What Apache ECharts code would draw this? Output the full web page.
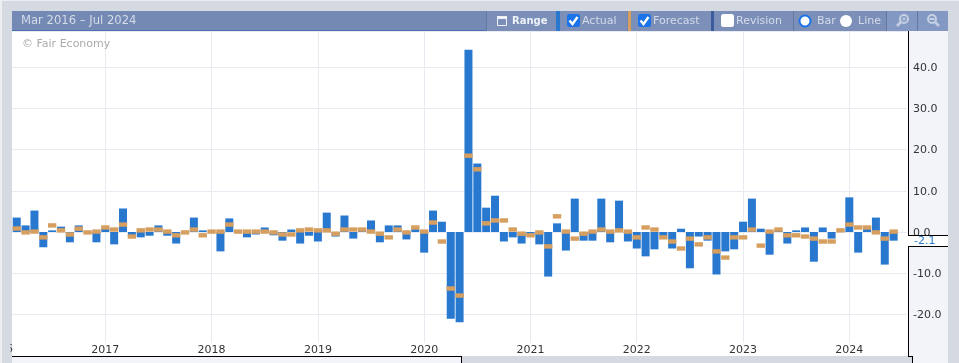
<!DOCTYPE html>
<html>
<head>
<meta charset="utf-8">
<style>html,body{margin:0;padding:0;background:#d5d9e2}#c{width:959px;height:363px}</style>
<script src="https://cdn.jsdelivr.net/npm/echarts@6/dist/echarts.min.js"></script>
</head>
<body>
<div id="c"></div>
<script>
const startYear = 2016, startMonth = 3;
const actualValues = [3.5,1.6,5.2,-3.7,0.4,1.3,-2.5,1.6,-0.1,-2.5,1.0,-3.0,5.7,-1.0,-1.3,-0.9,1.6,-0.9,-2.8,0.0,3.5,0.4,0.0,-4.7,3.3,0.0,
 -1.3,-0.6,1.1,-0.8,-2.1,0.6,-2.8,-0.9,-2.3,4.7,-1.1,4.0,-1.6,0.3,2.8,-2.5,1.6,1.6,-1.8,0.7,-5.0,5.2,2.5,-21.0,-21.9,44.2,16.6,5.9,8.8,
 -2.3,-1.3,-2.8,-0.9,-3.0,-10.8,2.1,-4.5,8.1,-2.1,-2.1,8.1,-2.5,7.6,-2.3,-4.0,-5.9,-4.2,-1.0,-4.0,0.8,-8.8,-1.1,-2.1,-10.3,-4.7,-4.2,2.5,8.1,0.8,-5.5,0.3,-2.8,0.4,1.1,-7.2,1.1,-1.6,0.1,8.4,-5.0,0.8,3.5,-7.9,-2.1,null];
const forecastValues = [0.85,-0.1,0.1,-1.3,1.6,0.4,-0.6,0.8,-0.1,0.1,1.1,0.6,1.8,-1.1,0.4,0.6,0.6,0.1,-0.8,-0.1,0.6,-0.8,0.1,0.1,1.8,0.1,
 0.1,0.1,0.1,-0.1,-0.6,-0.6,0.4,0.6,0.4,0.4,-0.4,0.6,0.6,0.6,0.1,-0.4,-1.3,0.6,-0.1,1.1,0.1,2.3,-2.3,-13.7,-15.4,18.5,15.2,2.1,2.8,
 2.8,0.6,-0.4,-0.8,-0.1,-3.5,3.8,0.1,-1.6,-0.4,0.1,0.6,0.1,0.4,0.1,-1.3,1.1,0.6,-1.3,-2.3,-4.0,-1.6,-3.0,-1.3,-4.7,-6.2,-1.3,-1.3,0.6,-3.3,0.1,0.6,-0.8,-0.8,-1.1,-1.6,-2.3,-2.3,0.4,1.8,1.1,1.1,-0.1,-1.6,0.1,null];
const months = actualValues.map((_, i) => {
  const t = startMonth - 1 + i;
  return (startYear + Math.floor(t / 12)) + '-' + String(t % 12 + 1).padStart(2, '0');
});
const latestActual = -2.1;
const rangeTitle = 'Mar 2016 \u2013 Jul 2024';
const clippedYear = '2016';

const FONT = '"DejaVu Sans", sans-serif';
const isJan = (i) => months[i].endsWith('-01');

const chart = echarts.init(document.getElementById('c'), null, {renderer: 'canvas'});

function rect(x, y, w, h, fill, z, extra) {
  return Object.assign({type: 'rect', silent: true, z: z || 1, shape: {x, y, width: w, height: h}, style: {fill}}, extra || {});
}
function txt(x, y, s, fill, o) {
  o = o || {};
  return {type: 'text', silent: true, z: o.z || 20, x, y, style: {text: s, fill, font: (o.weight || 'normal') + ' ' + (o.size || 11) + 'px ' + FONT, textVerticalAlign: 'middle', textAlign: o.align || 'left'}};
}
function line(x1, y1, x2, y2, stroke, w, z) {
  return {type: 'line', silent: true, z: z || 15, shape: {x1, y1, x2, y2}, style: {stroke, lineWidth: w || 1}};
}
function checkbox(x, y, on) {
  const out = [{type: 'rect', silent: true, z: 21, shape: {x, y, width: 13, height: 13, r: 2.5}, style: {fill: on ? '#1a73e8' : '#ffffff'}}];
  if (on) out.push({type: 'polyline', silent: true, z: 22, shape: {points: [[x + 2.5, y + 6.5], [x + 5.5, y + 10], [x + 10.5, y + 3]]}, style: {stroke: '#fff', lineWidth: 2.4, fill: 'none'}});
  return out;
}
function radio(cx, cy, on) {
  return [{type: 'circle', silent: true, z: 21, shape: {cx, cy, r: on ? 5.5 : 6}, style: {fill: '#fff', stroke: on ? '#1a73e8' : '#fff', lineWidth: on ? 2 : 0}}];
}
function magnifier(cx, cy, plus) {
  const c = '#c6d0e4';
  if (plus) return [
    {type: 'circle', silent: true, z: 21, shape: {cx: cx + 1, cy: cy - 1, r: 4}, style: {fill: 'none', stroke: c, lineWidth: 2}},
    line(cx - 2, cy + 2, cx - 6, cy + 6, c, 2.5, 21),
    line(cx - 1, cy - 1, cx + 3, cy - 1, c, 1, 21),
    line(cx + 1, cy - 3, cx + 1, cy + 1, c, 1, 21)
  ];
  return [
    {type: 'circle', silent: true, z: 21, shape: {cx: cx - 1, cy: cy - 1, r: 4}, style: {fill: 'none', stroke: c, lineWidth: 2}},
    line(cx + 2, cy + 2, cx + 6, cy + 6, c, 2.5, 21),
    line(cx - 3.5, cy - 1, cx + 1.5, cy - 1, c, 2, 21)
  ];
}

const toolbar = [
  rect(12, 11, 936, 20, '#7489b4', 10),
  rect(12, 30, 936, 1, '#4c6fb0', 11),
  rect(487, 11, 69, 20, '#7b8fb9', 11),
  rect(556, 11, 4, 20, '#2878d0', 12),
  rect(560, 11, 67, 20, '#7b8fb9', 11),
  rect(628, 11, 3, 20, '#d69f60', 12),
  rect(631, 11, 80, 20, '#7b8fb9', 11),
  rect(711, 11, 3, 20, '#3a5c9c', 12),
  rect(714, 11, 79, 20, '#7b8fb9', 11),
  rect(794, 11, 92, 20, '#7b8fb9', 11),
  rect(887, 11, 30, 20, '#8398c2', 11),
  rect(918, 11, 30, 20, '#8398c2', 11),
  rect(486, 11, 1, 20, '#62789f', 12),
  rect(793, 11, 1, 20, '#62789f', 12),
  rect(886, 11, 1, 20, '#62789f', 12),
  rect(917, 11, 1, 20, '#62789f', 12),
  txt(21, 21, rangeTitle, '#d5dbe8', {size: 11.6}),
  txt(512, 21, 'Range', '#eef1f7', {weight: 'bold', size: 10}),
  txt(582, 21, 'Actual', '#d5dbe8'),
  txt(653, 21, 'Forecast', '#d5dbe8'),
  txt(736, 21, 'Revision', '#d5dbe8'),
  txt(817, 21, 'Bar', '#d5dbe8'),
  txt(858, 21, 'Line', '#d5dbe8'),
  {type: 'rect', silent: true, z: 21, shape: {x: 497.5, y: 18.5, width: 9, height: 7}, style: {fill: 'none', stroke: '#eef1f7', lineWidth: 1}},
  rect(497, 16, 10, 3, '#eef1f7', 21),
  ...checkbox(567, 14, true),
  ...checkbox(638, 14, true),
  ...checkbox(721, 14, false),
  ...radio(805, 21, true),
  ...radio(846, 21, false),
  ...magnifier(903, 20, true),
  ...magnifier(933, 20, false),
];

const frame = [
  rect(12, 31, 896, 325, '#ffffff', -5),
  rect(908, 31, 40, 332, '#f3f4f9', -5),
  rect(12, 356, 449, 7, '#f3f4f9', 12),
  rect(461, 356, 451, 7, '#d5d9e2', 12),
  rect(912, 356, 36, 7, '#f3f4f9', 12),
  line(12, 356.5, 461, 356.5, '#000', 1, 13),
  line(461.5, 356, 461.5, 363, '#000', 1, 13),
  line(908, 356.5, 912, 356.5, '#000', 1, 13),
  line(912.5, 356, 912.5, 363, '#000', 1, 13),
  rect(0, 0, 959, 1, '#eceef2', 25),
  rect(0, 0, 2, 363, '#eceef2', 25),
  txt(22, 44, '\u00a9 Fair Economy', '#ababab'),
  {type: 'text', silent: true, z: 3, x: -1, y: 349, style: {text: clippedYear, fill: '#333', font: '11px ' + FONT, textAlign: 'center', textVerticalAlign: 'middle'}},
  rect(2, 31, 8.5, 332, '#d5d9e2', 6),
];

chart.setOption({
  animation: false,
  backgroundColor: '#d5d9e2',
  grid: {left: 12.3, top: 31, width: 894.6, height: 324.75, containLabel: false},
  xAxis: {
    type: 'category',
    data: months,
    boundaryGap: true,
    axisLine: {show: false},
    axisTick: {show: false},
    axisLabel: {
      inside: true,
      margin: -1,
      interval: (i) => isJan(i),
      formatter: (v) => v.slice(0, 4),
      color: '#333',
      fontFamily: FONT,
      fontSize: 11,
      lineHeight: 14,
      height: 14,
      backgroundColor: '#fff'
    },
    splitLine: {show: true, alignWithLabel: true, interval: (i) => isJan(i), lineStyle: {color: '#e8eaf1', width: 1}}
  },
  yAxis: {
    type: 'value',
    position: 'right',
    offset: 1.1,
    min: -30,
    max: 48.73,
    interval: 10,
    axisLine: {show: true, onZero: false, lineStyle: {color: '#000', width: 1}},
    axisTick: {show: false},
    axisLabel: {
      margin: 5,
      showMaxLabel: false,
      formatter: (v) => (Math.abs(v % 10) < 1e-6 && v > -30) ? '{t|' + v.toFixed(1) + '}' : '',
      rich: {t: {color: '#333', fontFamily: FONT, fontSize: 11, padding: [2, 0, 0, 0]}}
    },
    splitLine: {show: true, lineStyle: {color: '#e8eaf1', width: 1}}
  },
  series: [
    {name: 'Actual', type: 'bar', data: actualValues, barWidth: 8, itemStyle: {color: '#2878d0'}, z: 3},
    {name: 'Forecast', type: 'scatter', data: forecastValues, symbol: 'rect', symbolSize: [8.4, 4.4], itemStyle: {color: '#d69f60', opacity: 1}, z: 4}
  ],
  graphic: {elements: frame.concat(toolbar)}
});

// latest-value tag on the value axis
const tagY = Math.round(chart.convertToPixel({yAxisIndex: 0}, latestActual));
const tag = [
  rect(907, tagY - 5, 41, 11, '#ffffff', 18),
  line(908, tagY - 5.5, 948, tagY - 5.5, '#000', 1, 19),
  line(908, tagY + 5.5, 948, tagY + 5.5, '#000', 1, 19),
  txt(914, tagY, latestActual.toFixed(1), '#2878d0'),
];
chart.setOption({graphic: {elements: frame.concat(toolbar, tag)}});
</script>
</body>
</html>
